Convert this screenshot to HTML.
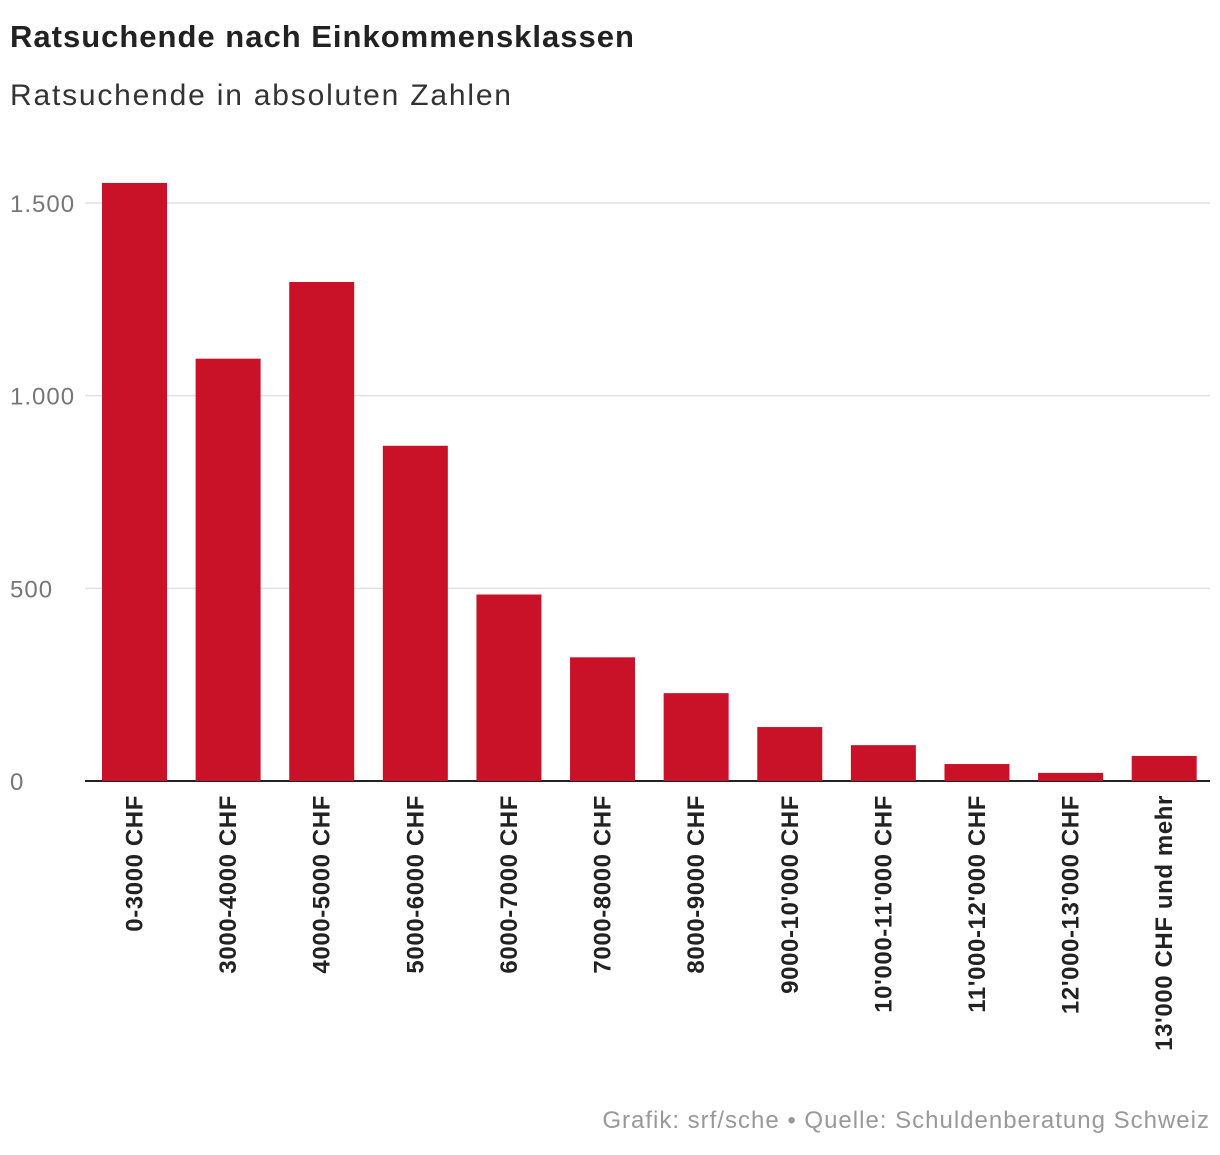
<!DOCTYPE html>
<html><head><meta charset="utf-8"><style>
body{margin:0;background:#fff;font-family:"Liberation Sans",sans-serif;}
svg text{font-family:"Liberation Sans",sans-serif;}
</style></head><body>
<svg width="1220" height="1150">
<text x="10" y="47" font-size="31" font-weight="bold" fill="#222" letter-spacing="1">Ratsuchende nach Einkommensklassen</text>
<text x="10" y="105" font-size="30" fill="#333" letter-spacing="1.8">Ratsuchende in absoluten Zahlen</text>
<g id="grid"></g><g id="bars"></g><g id="xl"></g>
<text x="1210" y="1128" font-size="24" fill="#999" text-anchor="end" letter-spacing="1">Grafik: srf/sche • Quelle: Schuldenberatung Schweiz</text>
</svg>
<script>
const categories=["0-3000 CHF","3000-4000 CHF","4000-5000 CHF","5000-6000 CHF","6000-7000 CHF","7000-8000 CHF","8000-9000 CHF","9000-10'000 CHF","10'000-11'000 CHF","11'000-12'000 CHF","12'000-13'000 CHF","13'000 CHF und mehr"];
const values=[1552,1096,1295,870,484,321,228,140,93,44,21,65];
const ticks=[0,500,1000,1500];
const tickLabels=["0","500","1.000","1.500"];
const NS="http://www.w3.org/2000/svg";
const x0=87.7,x1=1211,y0=781,yMax=1500,yTop=203;
const y=v=>y0-(v/yMax)*(y0-yTop);
const step=(x1-x0)/categories.length,bw=65;
const bx=i=>x0+i*step+(step-bw)/2;
function mk(t,a,p){const e=document.createElementNS(NS,t);for(const k in a)e.setAttribute(k,a[k]);p.appendChild(e);return e;}
const g=document.getElementById('grid'),b=document.getElementById('bars'),xl=document.getElementById('xl');
ticks.forEach((t,i)=>{
 if(t>0){const l=mk('line',{x1:85,x2:1210,y1:y(t),y2:y(t),stroke:'#e0e0e0','stroke-width':1.5},g);
 
 }
 const tx=mk('text',{x:10,y:y(t)+9,'font-size':24,fill:'#777','letter-spacing':1},g);tx.textContent=tickLabels[i];
 
 
});
values.forEach((v,i)=>{
 const r=mk('rect',{x:bx(i),y:y(v),width:bw,height:y0-y(v),fill:'#c91228'},b);
 
 
 const cx=bx(i)+bw/2+8;
 const t=mk('text',{x:0,y:0,'font-size':24,'font-weight':'bold',fill:'#222','text-anchor':'end','letter-spacing':0.6,transform:`translate(${cx},795) rotate(-90)`},xl);
 t.textContent=categories[i];
 
 
});
const ax=mk('line',{x1:85,x2:1210,y1:y0,y2:y0,stroke:'#222','stroke-width':2},g);


</script>
</body></html>
